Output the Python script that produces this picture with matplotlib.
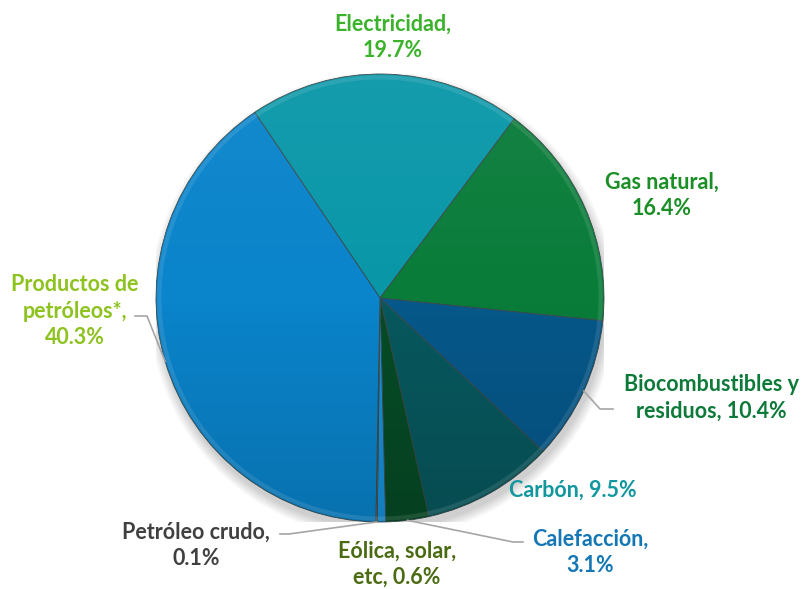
import numpy as np
import matplotlib
matplotlib.use("Agg")
import matplotlib.pyplot as plt
from matplotlib.patches import Circle, Ellipse

# shares of final energy consumption (%), clockwise from the top-left
labels = ["Electricidad", "Gas natural", "Biocombustibles y\nresiduos", "Carbón",
          "Calefacción", "Eólica, solar,\netc", "Petróleo crudo", "Productos de\npetróleos*"]
values = [19.7, 16.4, 10.4, 9.5, 3.1, 0.6, 0.1, 40.3]
slice_colors = ["#0997A8", "#0A7C3A", "#06588A", "#07585E",
                "#064B26", "#1790DA", "#8A8A8A", "#0A84CB"]
text_colors = ["#3BB22B", "#1A8F26", "#0D7A3A", "#12979F",
               "#1477B5", "#4B6B12", "#404040", "#8DC21F"]

W, H = 807, 589
CX, CY, R = 380, 298, 224

fig = plt.figure(figsize=(W / 100, H / 100), dpi=100)
ax = fig.add_axes([(CX - R) / W, 1 - (CY + R) / H, 2 * R / W, 2 * R / H])
ax.set_xlim(-1, 1)
ax.set_ylim(-1, 1)
ax.set_aspect("equal")
ax.axis("off")

def px(x, y):
    # picture pixel -> pie data coords
    return (x - CX) / R, (CY - y) / R

# soft shadow under the pie
for i in range(8):
    ax.add_patch(Ellipse((0.01, -0.03), 2.0 + i * 0.012, 2.0 + i * 0.012,
                         color="black", alpha=0.025, lw=0, zorder=0))

wedges, _ = ax.pie(values, colors=slice_colors, startangle=124, counterclock=False,
                   radius=1, wedgeprops=dict(edgecolor="#3a4a4a", linewidth=0.6))
for w in wedges:
    w.set_zorder(1)

# vertical shading over the pie, slightly lighter at top, darker at bottom
g = np.linspace(0, 1, 256)
rgba = np.zeros((256, 1, 4))
top = g < 0.5
rgba[top, 0, :3] = 1.0
rgba[:, 0, 3] = np.where(top, 0.05 * (0.5 - g) * 2, 0.14 * (g - 0.5) * 2)
im = ax.imshow(rgba, extent=[-1, 1, -1, 1], origin="upper", aspect="auto", zorder=2)
im.set_clip_path(Circle((0, 0), 1, transform=ax.transData))
ax.set_xlim(-1, 1)
ax.set_ylim(-1, 1)

# bevel rim
ax.add_patch(Circle((0, 0), 0.985, fill=False, ec="white", lw=3, alpha=0.10, zorder=3))

# leader lines: (elbow, end) in picture pixels, tip at slice middle
leaders = {2: [(600, 409), (613, 409)],
           4: [(513, 542), (523, 542)],
           6: [(289, 534), (280, 534)],
           7: [(147, 316), (135, 316)]}
for idx, pts in leaders.items():
    w = wedges[idx]
    ang = np.deg2rad((w.theta1 + w.theta2) / 2)
    xs = [np.cos(ang)] + [px(*p)[0] for p in pts]
    ys = [np.sin(ang)] + [px(*p)[1] for p in pts]
    ax.plot(xs, ys, color="#a6a6a6", lw=1.2, clip_on=False, zorder=4)

# label positions (text centres) in picture pixels
label_pos = [(393, 37), (662, 195), (711, 398), (573, 490),
             (590, 552), (397, 564), (196, 545), (75, 311)]
for lab, v, c, (x, y) in zip(labels, values, text_colors, label_pos):
    if lab == "Carbón":
        txt = f"{lab}, {v}%"
    elif lab.endswith("etc") or lab.endswith("residuos"):
        txt = f"{lab}, {v}%"
    else:
        txt = f"{lab},\n{v}%"
    ax.text(*px(x, y), txt, ha="center", va="center", color=c,
            fontsize=15.5, fontweight="bold", family=["Lato", "DejaVu Sans"],
            linespacing=1.3, clip_on=False, zorder=5)

fig.savefig("out.png", dpi=100)
